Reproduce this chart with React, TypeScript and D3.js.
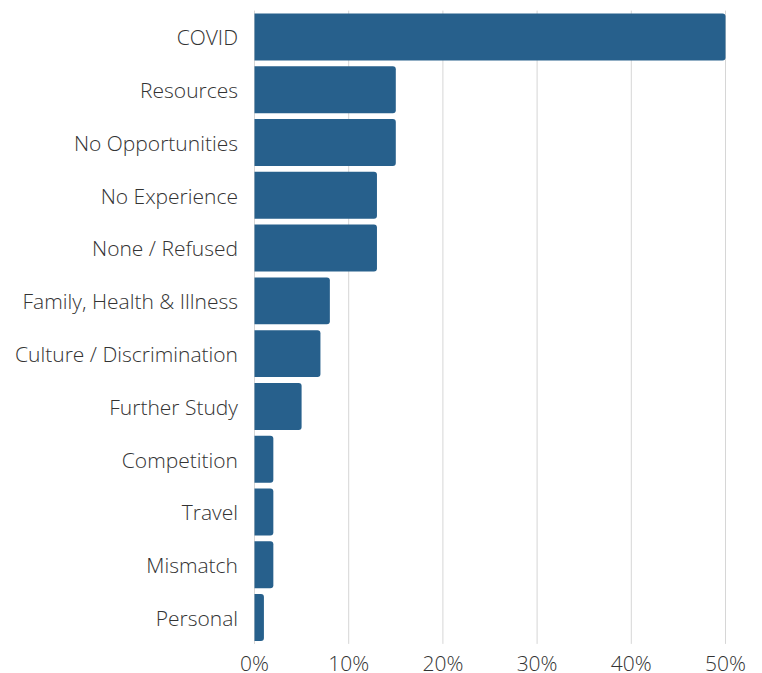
import React from "react";
import * as d3 from "d3";

const categories = [
  "COVID",
  "Resources",
  "No Opportunities",
  "No Experience",
  "None / Refused",
  "Family, Health & Illness",
  "Culture / Discrimination",
  "Further Study",
  "Competition",
  "Travel",
  "Mismatch",
  "Personal",
];
const values = [50, 15, 15, 13, 13, 8, 7, 5, 2, 2, 2, 1];
const xTicks = [0, 10, 20, 30, 40, 50];

const W = 762;
const H = 673;
const FONT = "'Open Sans', sans-serif";

export default function App() {
  const x = d3.scaleLinear().domain([0, 50]).range([254.5, 725.5]);
  const y = d3
    .scaleBand<string>()
    .domain(categories)
    .range([10.6, 643.9])
    .paddingInner(0.11)
    .paddingOuter(0.055);
  const bh = y.bandwidth();
  const r = 3;

  const barPath = (v: number, top: number) => {
    const x0 = x(0);
    const x1 = x(v);
    const rr = Math.min(r, (x1 - x0) / 2);
    return `M${x0},${top}H${x1 - rr}Q${x1},${top} ${x1},${top + rr}V${top + bh - rr}Q${x1},${top + bh} ${x1 - rr},${top + bh}H${x0}Z`;
  };

  return (
    <svg
      width={W}
      height={H}
      style={{ position: "absolute", left: 0, top: 0, background: "#fff" }}
    >
      {xTicks.map((t) => (
        <line
          key={"g" + t}
          x1={x(t)}
          x2={x(t)}
          y1={10.6}
          y2={643.9}
          stroke="#d6d6d6"
          strokeWidth={1}
        />
      ))}
      {categories.map((c, i) => (
        <path key={c} d={barPath(values[i], y(c)!)} fill="#27608c" />
      ))}
      {categories.map((c) => (
        <text
          key={"l" + c}
          x={238}
          y={y(c)! + bh / 2 + 1}
          dy="0.35em"
          textAnchor="end"
          fontFamily={FONT}
          fontWeight={300}
          fontSize={21}
          fill="#333"
        >
          {c}
        </text>
      ))}
      {xTicks.map((t) => (
        <text
          key={"t" + t}
          x={x(t)}
          y={671}
          textAnchor="middle"
          fontFamily={FONT}
          fontWeight={300}
          fontSize={21}
          fill="#333"
        >
          {t + "%"}
        </text>
      ))}
    </svg>
  );
}
